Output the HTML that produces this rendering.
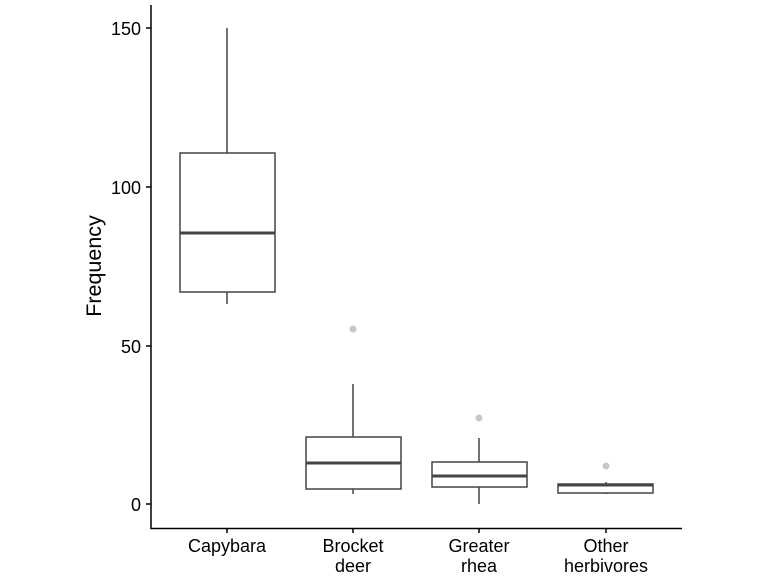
<!DOCTYPE html>
<html><head><style>body{margin:0;background:#fff}svg{display:block}text{font-family:"Liberation Sans",sans-serif;}</style></head><body>
<svg width="768" height="576" viewBox="0 0 768 576" xmlns="http://www.w3.org/2000/svg">
<g stroke="#000" stroke-width="1.5" fill="none">
<line x1="151" y1="5" x2="151" y2="528.5"/>
<line x1="150.3" y1="528.5" x2="682" y2="528.5"/>
<line x1="146" y1="28" x2="151" y2="28"/>
<line x1="146" y1="187" x2="151" y2="187"/>
<line x1="146" y1="346" x2="151" y2="346"/>
<line x1="146" y1="504" x2="151" y2="504"/>
<line x1="227" y1="528" x2="227" y2="533"/>
<line x1="353" y1="528" x2="353" y2="533"/>
<line x1="479" y1="528" x2="479" y2="533"/>
<line x1="606" y1="528" x2="606" y2="533"/>
</g>
<g fill="#000" font-size="18" text-anchor="end">
<text x="141" y="35">150</text>
<text x="141" y="194">100</text>
<text x="141" y="353">50</text>
<text x="141" y="511">0</text>
</g>
<text transform="translate(101,266) rotate(-90)" font-size="21.5" text-anchor="middle">Frequency</text>
<g font-size="18" text-anchor="middle" fill="#000">
<text x="227" y="552">Capybara</text>
<text x="353" y="552">Brocket</text><text x="353" y="572">deer</text>
<text x="479" y="552">Greater</text><text x="479" y="572">rhea</text>
<text x="606" y="552">Other</text><text x="606" y="572">herbivores</text>
</g>
<g stroke="#444" stroke-width="1.5" fill="#fff">
<line x1="227" y1="28" x2="227" y2="153"/><line x1="227" y1="292" x2="227" y2="304"/>
<rect x="180" y="153" width="95" height="139"/>
<line x1="180" y1="233" x2="275" y2="233" stroke-width="3"/>
<line x1="353" y1="384" x2="353" y2="437"/><line x1="353" y1="489" x2="353" y2="494"/>
<rect x="306" y="437" width="95" height="52"/>
<line x1="306" y1="463" x2="401" y2="463" stroke-width="3"/>
<line x1="479" y1="438" x2="479" y2="462"/><line x1="479" y1="487" x2="479" y2="504"/>
<rect x="432" y="462" width="95" height="25"/>
<line x1="432" y1="476" x2="527" y2="476" stroke-width="3"/>
<line x1="606" y1="482" x2="606" y2="494"/>
<rect x="558" y="484" width="95" height="9"/>
<line x1="558" y1="485" x2="653" y2="485" stroke-width="3"/>
</g>
<g fill="#c8c8c8">
<circle cx="353" cy="329" r="3.5"/><circle cx="479" cy="418" r="3.5"/><circle cx="606" cy="466" r="3.5"/>
</g>
</svg>
</body></html>
